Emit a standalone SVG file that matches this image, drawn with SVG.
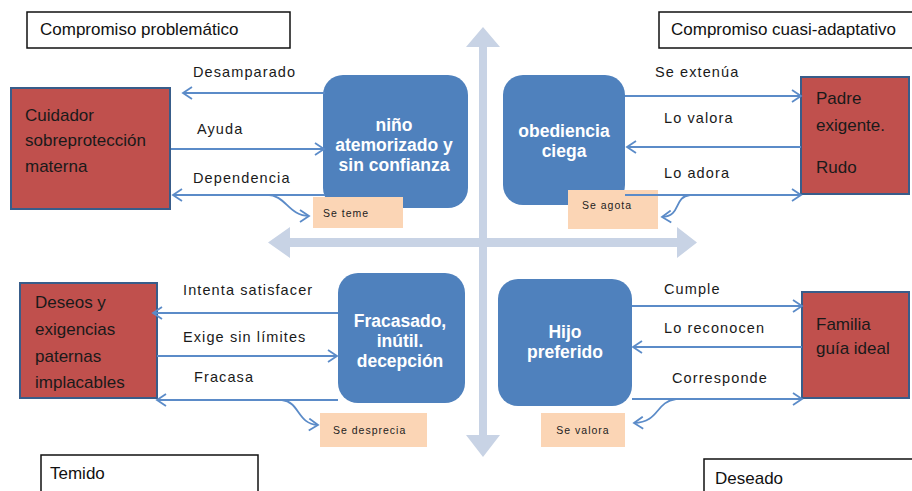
<svg xmlns="http://www.w3.org/2000/svg" width="912" height="491" viewBox="0 0 912 491">
<defs>
<marker id="ah" markerUnits="userSpaceOnUse" markerWidth="12" markerHeight="14" refX="10" refY="7" orient="auto">
<path d="M1,1 L10,7 L1,13" fill="none" stroke="#5B8BC8" stroke-width="1.8"/>
</marker>
<style>
.title{fill:#fff;stroke:#111;stroke-width:1.5}
.tt{font-family:"Liberation Sans",Arial,sans-serif;font-size:17px;fill:#111}
.red{fill:#C0504D;stroke:#385D8A;stroke-width:2}
.rt{font-family:"Liberation Sans",Arial,sans-serif;font-size:17px;fill:#1a1a1a}
.blue{fill:#4F81BD}
.bt{font-family:"Liberation Sans",Arial,sans-serif;font-size:17.5px;font-weight:bold;fill:#fff;text-anchor:middle}
.or{fill:#FBD5B5}
.ot{font-family:"Liberation Sans",Arial,sans-serif;font-size:10.5px;letter-spacing:1px;fill:#222}
.lb{font-family:"Liberation Sans",Arial,sans-serif;font-size:14.5px;letter-spacing:1.1px;fill:#1a1a1a}
.axis{fill:#C8D3E5}
.cn{fill:none;stroke:#5B8BC8;stroke-width:1.8;marker-end:url(#ah)}
</style>
</defs>
<rect width="912" height="491" fill="#fff"/>

<g id="axes">
<polygon class="axis" points="268,242.5 290,227 290,238 677,238 677,227 697,242.5 677,258 677,247 290,247 290,258"/>
<polygon class="axis" points="483,27 500,47 487,47 487,435 500,435 483,457 466,435 479,435 479,47 466,47"/>
</g>

<g id="title-tl"><rect class="title" x="27" y="12" width="263" height="36"/><text class="tt" x="40" y="35">Compromiso problemático</text></g>
<g id="title-tr"><rect class="title" x="659" y="12" width="260" height="36"/><text class="tt" x="671" y="35">Compromiso cuasi-adaptativo</text></g>
<g id="title-bl"><rect class="title" x="41" y="455" width="217" height="45"/><text class="tt" x="50" y="479">Temido</text></g>
<g id="title-br"><rect class="title" x="704" y="459" width="220" height="45"/><text class="tt" x="715" y="484">Deseado</text></g>

<g id="red-tl"><rect class="red" x="11" y="88" width="159" height="121"/>
<text class="rt" x="25" y="121">Cuidador</text><text class="rt" x="25" y="146">sobreprotección</text><text class="rt" x="25" y="172">materna</text></g>
<g id="red-tr"><rect class="red" x="801" y="77" width="108" height="117"/>
<text class="rt" x="816" y="104">Padre</text><text class="rt" x="816" y="131">exigente.</text><text class="rt" x="816" y="173">Rudo</text></g>
<g id="red-bl"><rect class="red" x="20" y="283" width="137" height="115"/>
<text class="rt" x="35" y="308">Deseos y</text><text class="rt" x="35" y="335">exigencias</text><text class="rt" x="35" y="362">paternas</text><text class="rt" x="35" y="388">implacables</text></g>
<g id="red-br"><rect class="red" x="802" y="292" width="107" height="106"/>
<text class="rt" x="816" y="330">Familia</text><text class="rt" x="816" y="354">guía ideal</text></g>

<g id="blue-tl"><rect class="blue" x="323" y="75" width="145" height="133" rx="20"/>
<text class="bt" x="394" y="131">niño</text><text class="bt" x="394" y="151">atemorizado y</text><text class="bt" x="394" y="171">sin confianza</text></g>
<g id="blue-tr"><rect class="blue" x="503" y="75" width="122" height="130" rx="20"/>
<text class="bt" x="564" y="137">obediencia</text><text class="bt" x="564" y="157">ciega</text></g>
<g id="blue-bl"><rect class="blue" x="338" y="273" width="127" height="130" rx="20"/>
<text class="bt" x="400" y="327">Fracasado,</text><text class="bt" x="400" y="347">inútil.</text><text class="bt" x="400" y="367">decepción</text></g>
<g id="blue-br"><rect class="blue" x="498" y="279" width="134" height="127" rx="20"/>
<text class="bt" x="565" y="338">Hijo</text><text class="bt" x="565" y="358">preferido</text></g>

<g id="or-tl"><rect class="or" x="313" y="197" width="90" height="31"/><text class="ot" x="323" y="217">Se teme</text></g>
<g id="or-tr"><rect class="or" x="568" y="190" width="90" height="39"/><text class="ot" x="582" y="209">Se agota</text></g>
<g id="or-bl"><rect class="or" x="320" y="413" width="107" height="34"/><text class="ot" x="333" y="434">Se desprecia</text></g>
<g id="or-br"><rect class="or" x="541" y="413" width="84" height="34"/><text class="ot" x="583" y="434" text-anchor="middle">Se valora</text></g>

<g id="connectors">
<path class="cn" d="M325,93 L183,93"/>
<path class="cn" d="M171,149 L324,149"/>
<path class="cn" d="M325,195 L173,195"/>
<path class="cn" d="M266,195 C286,194 288,216 309,216"/>
<path class="cn" d="M625,96 L801,96"/>
<path class="cn" d="M801,147 L627,147"/>
<path class="cn" d="M625,195 L801,195"/>
<path class="cn" d="M690,195 C673,197 682,216 662,217"/>
<path class="cn" d="M338,313 L153,313"/>
<path class="cn" d="M157,356 L337,356"/>
<path class="cn" d="M338,400 L157,400"/>
<path class="cn" d="M282,400 C300,402 297,424 318,425"/>
<path class="cn" d="M632,306 L802,306"/>
<path class="cn" d="M802,347 L633,347"/>
<path class="cn" d="M632,399 L802,399"/>
<path class="cn" d="M676,399 C655,402 660,422 634,423"/>
</g>

<g id="labels">
<text class="lb" x="193" y="77">Desamparado</text>
<text class="lb" x="197" y="134">Ayuda</text>
<text class="lb" x="193" y="183">Dependencia</text>
<text class="lb" x="655" y="77">Se extenúa</text>
<text class="lb" x="664" y="123">Lo valora</text>
<text class="lb" x="664" y="178">Lo adora</text>
<text class="lb" x="183" y="295">Intenta satisfacer</text>
<text class="lb" x="183" y="342">Exige sin límites</text>
<text class="lb" x="194" y="382">Fracasa</text>
<text class="lb" x="664" y="294">Cumple</text>
<text class="lb" x="664" y="333">Lo reconocen</text>
<text class="lb" x="672" y="383">Corresponde</text>
</g>
</svg>
